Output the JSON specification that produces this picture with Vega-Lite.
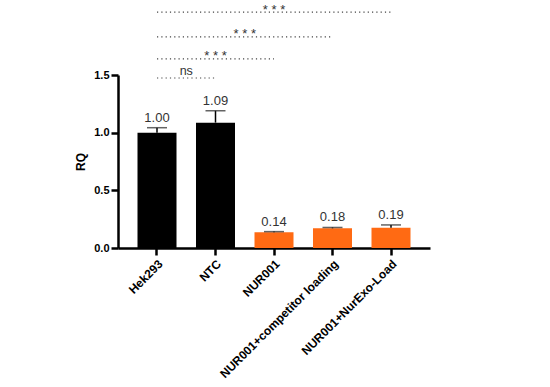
{
  "$schema": "https://vega.github.io/schema/vega-lite/v6.json",
  "width": 312,
  "height": 173,
  "autosize": {"type": "none"},
  "padding": {"left": 118, "top": 75, "right": 120, "bottom": 139},
  "background": "white",
  "config": {
    "view": {"stroke": null},
    "font": "Liberation Sans",
    "axis": {"domainColor": "black", "tickColor": "black", "labelColor": "black", "titleColor": "black", "grid": false}
  },
  "datasets": {
    "bars": [
      {"sample": "Hek293", "rq": 1.0, "upper": 1.043, "label": "1.00", "group": "ctrl"},
      {"sample": "NTC", "rq": 1.087, "upper": 1.19, "label": "1.09", "group": "ctrl"},
      {"sample": "NUR001", "rq": 0.136, "upper": 0.142, "label": "0.14", "group": "nur"},
      {"sample": "NUR001+competitor loading", "rq": 0.171, "upper": 0.178, "label": "0.18", "group": "nur"},
      {"sample": "NUR001+NurExo-Load", "rq": 0.176, "upper": 0.2, "label": "0.19", "group": "nur"}
    ],
    "sig": [
      {"from": 0, "to": 1, "mid": 0.5, "y": 1.474, "sig": "ns", "kind": "ns"},
      {"from": 0, "to": 2, "mid": 1, "y": 1.639, "sig": "* * *", "kind": "star"},
      {"from": 0, "to": 3, "mid": 1.5, "y": 1.83, "sig": "* * *", "kind": "star"},
      {"from": 0, "to": 4, "mid": 2, "y": 2.046, "sig": "* * *", "kind": "star"}
    ]
  },
  "layer": [
    {
      "data": {"name": "bars"},
      "layer": [
        {
          "mark": {"type": "bar"},
          "encoding": {
            "x": {
              "field": "sample", "type": "nominal", "sort": null,
              "scale": {"paddingInner": 0.3333, "paddingOuter": 0.3333},
              "axis": {"title": null, "labelAngle": -45, "labelFontWeight": "bold", "labelFontSize": 12, "labelPadding": 3, "tickSize": 7, "tickWidth": 2.5, "domainWidth": 2.5}
            },
            "y": {
              "field": "rq", "type": "quantitative",
              "scale": {"domain": [0, 1.5], "nice": false},
              "axis": {"title": "RQ", "values": [0, 0.5, 1, 1.5], "format": ".1f", "labelFontWeight": "bold", "labelFontSize": 11, "labelPadding": 2, "tickSize": 7, "tickWidth": 2.5, "domainWidth": 2.5, "titleFontSize": 12, "titleFontWeight": "bold", "titlePadding": 6}
            },
            "color": {"field": "group", "type": "nominal", "scale": {"domain": ["ctrl", "nur"], "range": ["#000000", "#FF6A13"]}, "legend": null}
          }
        },
        {
          "mark": {"type": "rule", "color": "black", "strokeWidth": 1.5},
          "encoding": {
            "x": {"field": "sample", "type": "nominal", "sort": null},
            "y": {"field": "rq", "type": "quantitative"},
            "y2": {"field": "upper"}
          }
        },
        {
          "mark": {"type": "tick", "color": "#222222", "size": 20, "thickness": 1.5},
          "encoding": {
            "x": {"field": "sample", "type": "nominal", "sort": null},
            "y": {"field": "upper", "type": "quantitative"}
          }
        },
        {
          "mark": {"type": "text", "fontSize": 13, "color": "#333333", "baseline": "alphabetic", "dy": -6},
          "encoding": {
            "x": {"field": "sample", "type": "nominal", "sort": null},
            "y": {"field": "upper", "type": "quantitative"},
            "text": {"field": "label"}
          }
        }
      ]
    },
    {
      "data": {"name": "sig"},
      "layer": [
        {
          "mark": {"type": "rule", "color": "#444444", "strokeWidth": 1.2, "strokeDash": [1.2, 3.1]},
          "encoding": {
            "x": {"field": "from", "type": "quantitative", "scale": {"domain": [-0.6667, 4.6667], "nice": false, "zero": false}, "axis": null},
            "x2": {"field": "to"},
            "y": {"field": "y", "type": "quantitative"}
          }
        },
        {
          "transform": [{"filter": "datum.kind === 'ns'"}],
          "mark": {"type": "text", "fontSize": 12.5, "color": "#333333", "baseline": "alphabetic", "dy": -3},
          "encoding": {
            "x": {"field": "mid", "type": "quantitative", "scale": {"domain": [-0.6667, 4.6667], "nice": false, "zero": false}, "axis": null},
            "y": {"field": "y", "type": "quantitative"},
            "text": {"field": "sig"}
          }
        },
        {
          "transform": [{"filter": "datum.kind === 'star'"}],
          "mark": {"type": "text", "fontSize": 13, "color": "#333333", "baseline": "alphabetic", "dy": 1.5},
          "encoding": {
            "x": {"field": "mid", "type": "quantitative", "scale": {"domain": [-0.6667, 4.6667], "nice": false, "zero": false}, "axis": null},
            "y": {"field": "y", "type": "quantitative"},
            "text": {"field": "sig"}
          }
        }
      ]
    }
  ],
  "resolve": {"scale": {"x": "independent"}}
}
